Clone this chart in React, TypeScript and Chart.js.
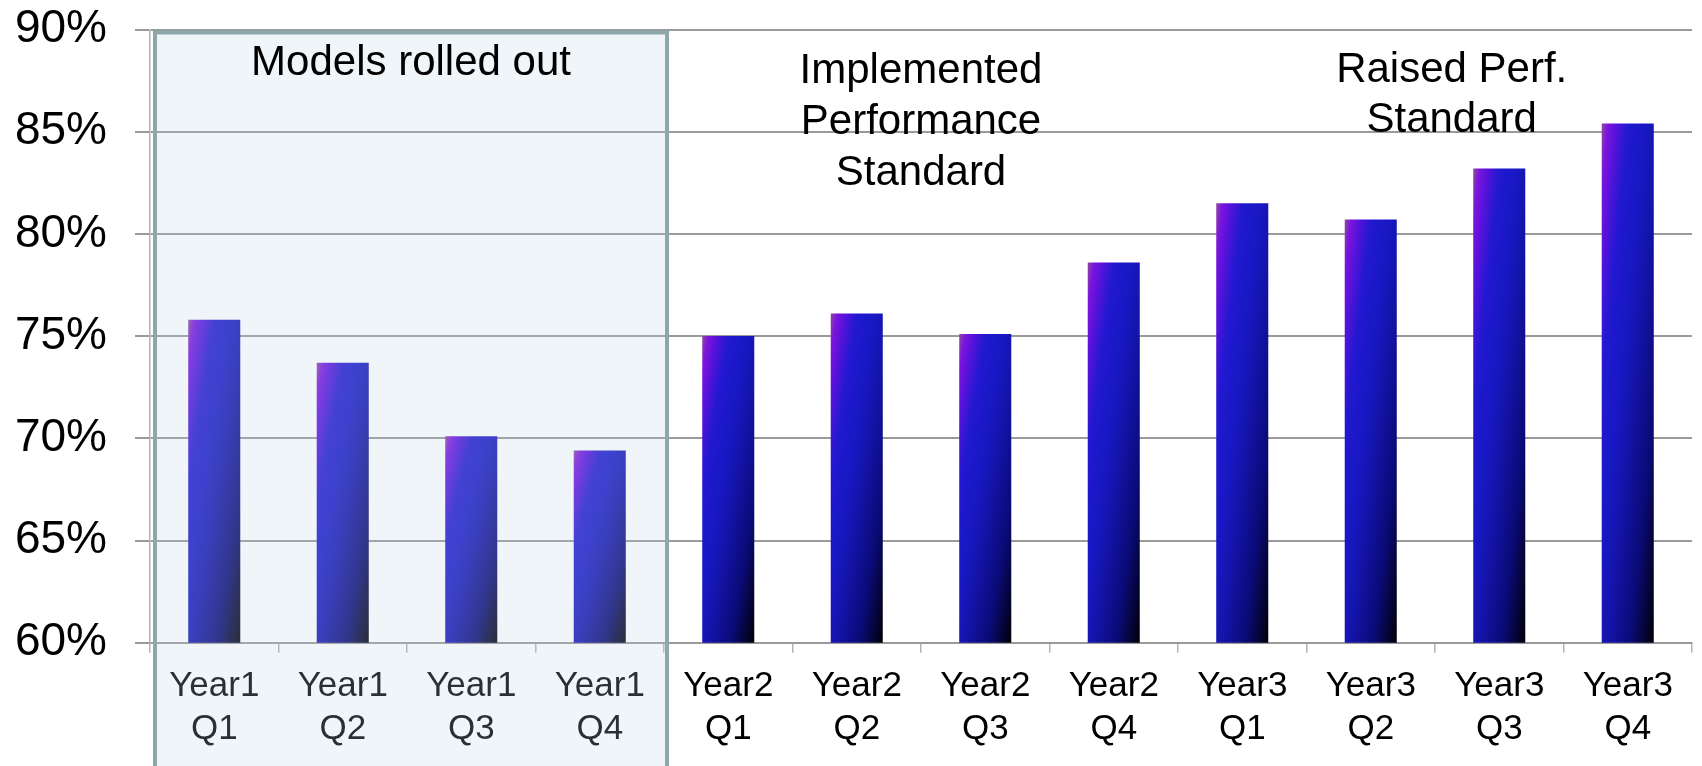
import React, { useEffect, useRef } from "react";
import { Chart, registerables } from "chart.js";

Chart.register(...registerables);

const categories: string[][] = [
  ["Year1", "Q1"], ["Year1", "Q2"], ["Year1", "Q3"], ["Year1", "Q4"],
  ["Year2", "Q1"], ["Year2", "Q2"], ["Year2", "Q3"], ["Year2", "Q4"],
  ["Year3", "Q1"], ["Year3", "Q2"], ["Year3", "Q3"], ["Year3", "Q4"],
];
const values: number[] = [75.8, 73.7, 70.1, 69.4, 75.0, 76.1, 75.1, 78.6, 81.5, 80.7, 83.2, 85.4];
const yTicks: number[] = [60, 65, 70, 75, 80, 85, 90];
const phaseLabels: string[][] = [
  ["Models rolled out"],
  ["Implemented", "Performance", "Standard"],
  ["Raised Perf.", "Standard"],
];

const FONT = "'Liberation Sans', Arial, Helvetica, sans-serif";
const BAR_FRACTION = 0.405;

const phasePlugin = {
  id: "phases",
  afterDraw(chart: any) {
    const { ctx, scales, chartArea } = chart;
    const x = scales.x;
    const y = scales.y;
    const left = chartArea.left + 5;
    const right = (x.getPixelForValue(3) + x.getPixelForValue(4)) / 2 + 3;
    const top = y.getPixelForValue(yTicks[yTicks.length - 1]) + 3;
    const bottom = chart.height + 10;
    ctx.save();
    ctx.fillStyle = "rgba(190,212,230,0.225)";
    ctx.fillRect(left, top, right - left, bottom - top);
    ctx.strokeStyle = "#8ca8aa";
    ctx.lineWidth = 4;
    ctx.beginPath();
    ctx.moveTo(left, bottom);
    ctx.lineTo(left, top);
    ctx.lineTo(right, top);
    ctx.lineTo(right, bottom);
    ctx.stroke();

    ctx.fillStyle = "#000";
    ctx.textAlign = "center";
    ctx.textBaseline = "alphabetic";
    ctx.font = `42px ${FONT}`;
    const groups = [
      { cx: (left + right) / 2, base: chartArea.top + 45.5, step: 51, lines: phaseLabels[0] },
      { cx: x.getPixelForValue(5.5), base: chartArea.top + 53.2, step: 51, lines: phaseLabels[1] },
      { cx: x.getPixelForValue(9.63), base: chartArea.top + 52.2, step: 50, lines: phaseLabels[2] },
    ];
    groups.forEach((g) => {
      g.lines.forEach((line, i) => ctx.fillText(line, g.cx, g.base + i * g.step));
    });
    ctx.restore();
  },
};

function barGradient(context: any) {
  const chart = context.chart;
  const { chartArea, scales } = chart;
  if (!chartArea || context.type !== "data" || !scales.x || !scales.y) return "#1818c4";
  const x = scales.x;
  const y = scales.y;
  const cw = x.width / categories.length;
  const w = cw * BAR_FRACTION;
  const cx = x.getPixelForValue(context.dataIndex);
  const l = cx - w / 2;
  const t = y.getPixelForValue(context.raw);
  const h = Math.max(1, y.bottom - t);
  const k = 2 / (1 / (w * w) + 1 / (h * h));
  const g = chart.ctx.createLinearGradient(l, t, l + k / w, t + k / h);
  g.addColorStop(0, "#8c4ca0");
  g.addColorStop(0.06, "#7c14dc");
  g.addColorStop(0.12, "#6012dc");
  g.addColorStop(0.25, "#2218d0");
  g.addColorStop(0.42, "#1818c4");
  g.addColorStop(0.56, "#1414aa");
  g.addColorStop(0.78, "#0a0a74");
  g.addColorStop(1, "#000006");
  return g;
}

export default function App() {
  const ref = useRef<HTMLCanvasElement>(null);
  useEffect(() => {
    document.body.style.margin = "0";
    if (!ref.current) return;
    const chart = new Chart(ref.current, {
      type: "bar",
      data: {
        labels: categories,
        datasets: [
          {
            data: values,
            backgroundColor: barGradient,
            borderWidth: 0,
            barPercentage: BAR_FRACTION,
            categoryPercentage: 1,
          },
        ],
      },
      options: {
        animation: false,
        responsive: false,
        layout: { autoPadding: false, padding: { top: 29.5, right: 10, left: 0, bottom: 0 } },
        plugins: { legend: { display: false }, tooltip: { enabled: false }, title: { display: false } },
        scales: {
          x: {
            grid: {
              offset: true,
              drawOnChartArea: false,
              drawTicks: true,
              tickLength: 10,
              color: "#b4b4b4",
              lineWidth: 1.5,
            },
            border: { color: "#9a9a9a", width: 2 },
            ticks: {
              color: "#000",
              font: { family: FONT, size: 35, lineHeight: 1.23 },
              padding: 12,
              maxRotation: 0,
              autoSkip: false,
            },
            afterFit(scale: any) {
              scale.height = 123.3;
              scale.paddingLeft = 0;
              scale.paddingRight = 0;
            },
          },
          y: {
            min: yTicks[0],
            max: yTicks[yTicks.length - 1],
            grid: { color: "#9a9a9a", lineWidth: 2, tickLength: 15, drawTicks: true },
            border: { color: "#b4b4b4", width: 1.5 },
            ticks: {
              stepSize: 5,
              color: "#000",
              font: { family: FONT, size: 46 },
              padding: 28,
              callback: (v: any) => `${v}%`,
            },
            afterFit(scale: any) {
              scale.width = 150;
              scale.paddingTop = 0;
              scale.paddingBottom = 0;
            },
          },
        },
      },
      plugins: [phasePlugin],
    });
    return () => chart.destroy();
  }, []);
  return (
    <div style={{ width: 1702, height: 766 }}>
      <canvas ref={ref} width={1702} height={766} />
    </div>
  );
}
